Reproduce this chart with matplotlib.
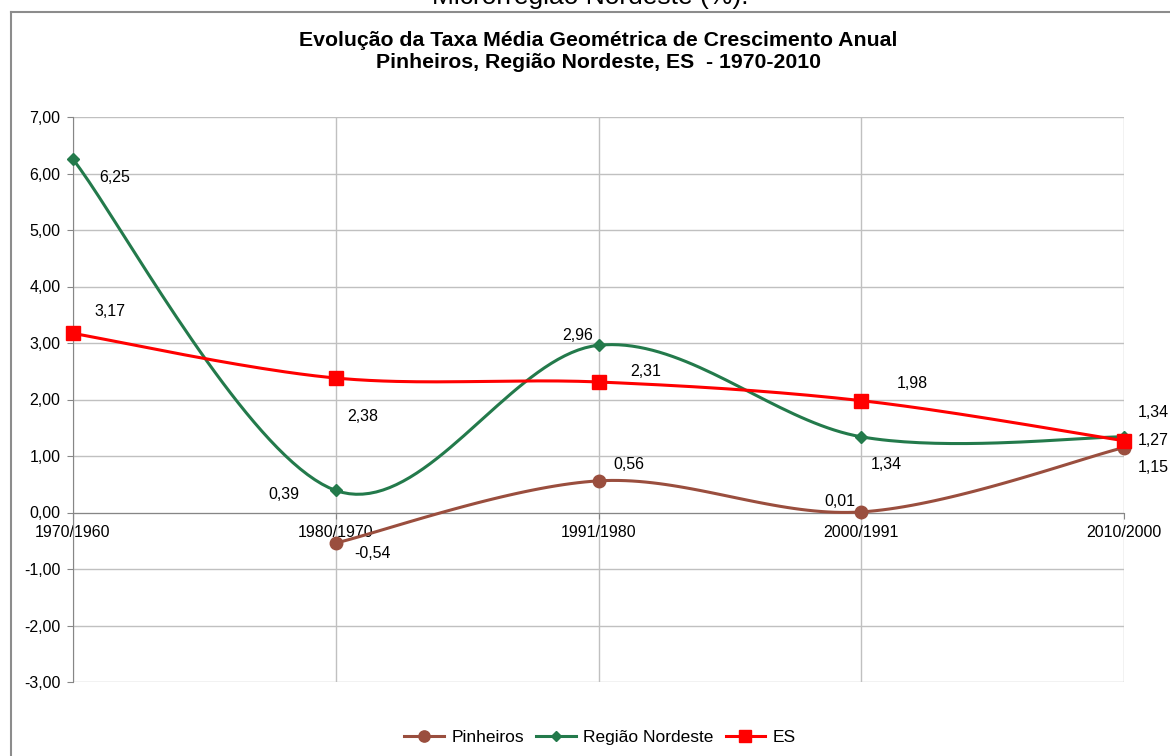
import numpy as np
import matplotlib
matplotlib.use("Agg")
import matplotlib.pyplot as plt
from matplotlib.lines import Line2D

plt.rcParams["font.family"] = ["Liberation Sans", "DejaVu Sans"]

# ===== data =====
categories = ["1970/1960", "1980/1970", "1991/1980", "2000/1991", "2010/2000"]
pinheiros = [np.nan, -0.54, 0.56, 0.01, 1.15]
nordeste = [6.25, 0.39, 2.96, 1.34, 1.34]
es = [3.17, 2.38, 2.31, 1.98, 1.27]
y_ticks = [-3, -2, -1, 0, 1, 2, 3, 4, 5, 6, 7]

# label offsets in pixels (dx, dy) per point
off_pin = [None, (37, -10), (30, 16), (-21, 10), (29, -20)]
off_nor = [(42, -18), (-52, -4), (-21, 10), (25, -28), (29, 24)]
off_es = [(37, 22), (27, -38), (47, 10), (51, 17), (29, 0)]

C_PIN = "#9A4E3E"
C_NOR = "#237A4B"
C_ES = "#FF0000"


def smooth(xs, ys, n=40):
    """Excel-like smoothed line (Catmull-Rom -> Bezier)"""
    pts = [(x, y) for x, y in zip(xs, ys) if not np.isnan(y)]
    P = np.array(pts, dtype=float)
    out = []
    for i in range(len(P) - 1):
        p0 = P[i - 1] if i > 0 else P[i]
        p1, p2 = P[i], P[i + 1]
        p3 = P[i + 2] if i + 2 < len(P) else P[i + 1]
        c1 = p1 + (p2 - p0) / 6
        c2 = p2 - (p3 - p1) / 6
        t = np.linspace(0, 1, n)[:, None]
        seg = ((1 - t) ** 3) * p1 + 3 * ((1 - t) ** 2) * t * c1 + 3 * (1 - t) * t ** 2 * c2 + t ** 3 * p2
        out.append(seg if i == 0 else seg[1:])
    seg = np.vstack(out)
    return seg[:, 0], seg[:, 1]


def fmt(v):
    return f"{v:.2f}".replace(".", ",")


fig = plt.figure(figsize=(11.7, 7.56), dpi=100)
ax = fig.add_axes([73 / 1170, 1 - 682 / 756, (1124 - 73) / 1170, (682 - 117) / 756])

x = np.arange(len(categories))
series = [
    (pinheiros, C_PIN, "o", 9, off_pin, "Pinheiros"),
    (nordeste, C_NOR, "D", 6, off_nor, "Região Nordeste"),
    (es, C_ES, "s", 10, off_es, "ES"),
]
for vals, col, mk, ms, offs, name in series:
    sx, sy = smooth(x, vals)
    ax.plot(sx, sy, color=col, lw=2.2, zorder=3, clip_on=False)
    ax.plot(x, vals, ls="none", marker=mk, ms=ms, color=col, zorder=4, clip_on=False)
    for xi, v, o in zip(x, vals, offs):
        if np.isnan(v) or o is None:
            continue
        ax.annotate(fmt(v), (xi, v), xytext=o, textcoords="offset pixels",
                    ha="center", va="center", fontsize=11.5, color="#000000")

ax.set_xlim(0, len(categories) - 1)
ax.set_ylim(-3, 7)
ax.set_yticks(y_ticks)
ax.set_yticklabels([fmt(v) for v in y_ticks])
ax.set_xticks(x)
ax.set_xticklabels(categories)
ax.grid(True, color="#C0C0C0", lw=1)
ax.set_axisbelow(True)

for s in ["top", "right"]:
    ax.spines[s].set_visible(False)
ax.spines["left"].set_color("#868686")
ax.spines["bottom"].set_position(("data", 0))
ax.spines["bottom"].set_color("#868686")
ax.tick_params(axis="y", length=4, color="#868686", labelsize=11.5, pad=5)
ax.tick_params(axis="x", length=4, color="#868686", labelsize=11.5, pad=5)

# titles (the upper caption is cut by the top edge, as in the source image)
fig.text(590 / 1170, 1 + 3 / 756, "Microrregião Nordeste (%).", ha="center", va="center",
         fontsize=19)
fig.text(598 / 1170, 1 - 40 / 756, "Evolução da Taxa Média Geométrica de Crescimento Anual",
         ha="center", va="center", fontsize=15.3, fontweight="bold")
fig.text(598 / 1170, 1 - 63 / 756, "Pinheiros, Região Nordeste, ES  - 1970-2010",
         ha="center", va="center", fontsize=15.3, fontweight="bold")

# outer chart border
fig.add_artist(Line2D([10.5 / 1170, 10.5 / 1170], [0, 1 - 12 / 756], transform=fig.transFigure,
                      color="#8C8C8C", lw=1.5))
fig.add_artist(Line2D([10.5 / 1170, 1], [1 - 12 / 756, 1 - 12 / 756], transform=fig.transFigure,
                      color="#8C8C8C", lw=1.5))

handles = [Line2D([], [], color=col, marker=mk, ms=ms * 0.9, lw=2.2) for _, col, mk, ms, _, _ in series]
fig.legend(handles, [s[5] for s in series], loc="center", bbox_to_anchor=(600 / 1170, 1 - 737 / 756),
           ncol=3, frameon=False, fontsize=12.5, handlelength=2.3, columnspacing=0.7, handletextpad=0.4)

fig.savefig("out.png", dpi=100)
